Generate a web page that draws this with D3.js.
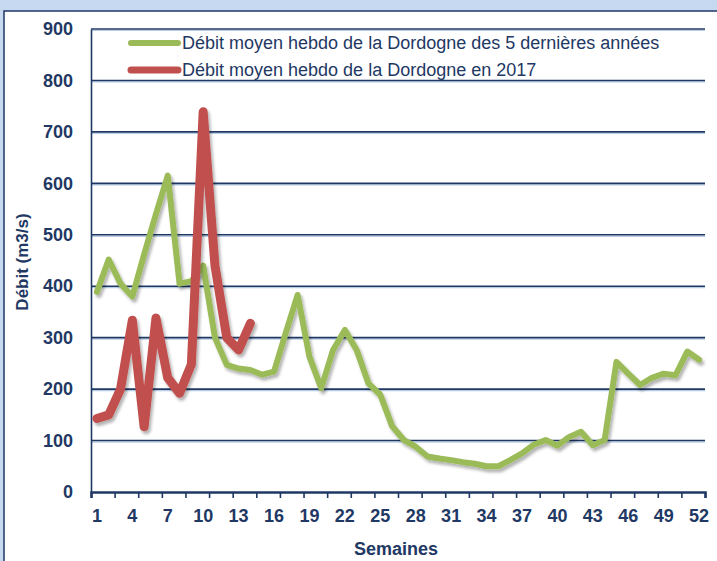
<!DOCTYPE html>
<html>
<head>
<meta charset="utf-8">
<script src="https://cdn.jsdelivr.net/npm/d3@7"></script>
<style>
  body { margin: 0; background: #c6d9f1; }
  #chart { width: 717px; height: 561px; }
  text { font-family: "Liberation Sans", Arial, sans-serif; }
</style>
</head>
<body>
<div id="chart"></div>
<script>
// weeks 1..52
const weeks = d3.range(1, 53);
const weekLabels = d3.range(1, 53, 3);
const yTicks = d3.range(0, 1000, 100);

// average weekly flow, last 5 years (m3/s)
const avg5Years = [389, 452, 405, 380, 462, 540, 615, 405, 410, 440,
    300, 247, 240, 237, 228, 234, 310, 383, 263, 202,
    276, 315, 276, 211, 189, 128, 101, 88, 69, 65,
    62, 58, 55, 50, 50, 62, 75, 92, 101, 90,
    107, 117, 91, 101, 253, 230, 208, 222, 230, 227,
    273, 257];
// average weekly flow 2017 (first 14 weeks)
const flow2017 = [143, 150, 200, 334, 127, 338, 222, 192, 248, 739,
    440, 300, 276, 328];

const seriesNames = [
    "Débit moyen hebdo de la Dordogne des 5 dernières années",
    "Débit moyen hebdo de la Dordogne en 2017"
];
const colors = ["#9bbb59", "#c0504d"];
const strokeWidths = [6, 9];
const navy = "#1f3864";

const width = 717, height = 561;
const plot = { left: 91, right: 705, top: 29, bottom: 492 };

const svg = d3.select("#chart").append("svg")
    .attr("width", width).attr("height", height);

const defs = svg.append("defs");
const shadow = defs.append("filter").attr("id", "shadow")
    .attr("x", "-5%").attr("y", "-5%").attr("width", "110%").attr("height", "110%");
shadow.append("feDropShadow").attr("dx", 2).attr("dy", 3)
    .attr("stdDeviation", 1.5).attr("flood-color", "#000").attr("flood-opacity", 0.3);

// panel
svg.append("rect").attr("x", 4).attr("y", 11).attr("width", width + 10).attr("height", height + 10)
    .attr("fill", "#fff").attr("stroke", navy).attr("stroke-width", 1.5);

// scales
const x = d3.scaleBand().domain(weeks).range([plot.left, plot.right]);
const edge = d3.scaleLinear().domain([0, 52]).range([plot.left, plot.right]);
const y = d3.scaleLinear().domain([0, 900]).range([plot.bottom, plot.top]);
const cx = w => x(w) + x.bandwidth() / 2;

// gridlines
const grid = svg.append("g");
grid.selectAll("line.sh").data(yTicks.filter(d => d > 0)).join("line")
    .attr("x1", plot.left).attr("x2", plot.right)
    .attr("y1", d => y(d) + 1.5).attr("y2", d => y(d) + 1.5)
    .attr("stroke", "#b8cce4").attr("stroke-width", 1.2);
grid.selectAll("line.gl").data(yTicks.filter(d => d > 0)).join("line")
    .attr("x1", plot.left).attr("x2", plot.right)
    .attr("y1", d => y(d)).attr("y2", d => y(d))
    .attr("stroke", navy).attr("stroke-width", 1.6);

// y axis
const yAxis = svg.append("g")
    .attr("transform", `translate(${plot.left},0)`)
    .call(d3.axisLeft(y).tickValues(yTicks).tickSize(0).tickPadding(18));
yAxis.select(".domain").attr("stroke", navy).attr("stroke-width", 1.6);
yAxis.selectAll("text").attr("fill", navy).attr("font-size", "18px")
    .attr("font-weight", "bold").style("font-family", "'Liberation Sans', Arial, sans-serif");

// x axis: tick marks between categories
const xTicks = svg.append("g")
    .attr("transform", `translate(0,${plot.bottom})`)
    .call(d3.axisBottom(edge).tickValues(d3.range(0, 53, 2)).tickSize(6).tickFormat(""));
xTicks.select(".domain").attr("stroke", navy).attr("stroke-width", 2.5);
xTicks.selectAll(".tick line").attr("stroke", navy).attr("stroke-width", 1.6);

// x labels
const xLabels = svg.append("g")
    .attr("transform", `translate(0,${plot.bottom})`)
    .call(d3.axisBottom(x).tickValues(weekLabels).tickSize(0).tickPadding(17));
xLabels.select(".domain").remove();
xLabels.selectAll("text").attr("fill", navy).attr("font-size", "18px")
    .attr("font-weight", "bold").style("font-family", "'Liberation Sans', Arial, sans-serif");

// axis titles
svg.append("text").attr("x", 396).attr("y", 555).attr("text-anchor", "middle")
    .attr("fill", navy).attr("font-size", "18px").attr("font-weight", "bold")
    .text("Semaines");
svg.append("text").attr("transform", "translate(28,262) rotate(-90)")
    .attr("text-anchor", "middle")
    .attr("fill", navy).attr("font-size", "17px").attr("font-weight", "bold")
    .text("Débit (m3/s)");

// lines
const line = d3.line().x((d, i) => cx(weeks[i])).y(d => y(d));
[avg5Years, flow2017].forEach((values, i) => {
    svg.append("path").datum(values)
        .attr("fill", "none").attr("stroke", colors[i]).attr("stroke-width", strokeWidths[i])
        .attr("stroke-linejoin", "round").attr("stroke-linecap", "round")
        .attr("filter", "url(#shadow)").attr("d", line);
});

// legend
const legend = svg.append("g").attr("transform", "translate(128,43)");
seriesNames.forEach((name, i) => {
    const g = legend.append("g").attr("transform", `translate(0,${i * 27})`);
    g.append("line").attr("x1", 3).attr("x2", 50)
        .attr("stroke", colors[i]).attr("stroke-width", 6 + i).attr("stroke-linecap", "round");
    g.append("text").attr("x", 54).attr("y", 6)
        .attr("fill", navy).attr("font-size", "18px").text(name);
});
</script>
</body>
</html>
